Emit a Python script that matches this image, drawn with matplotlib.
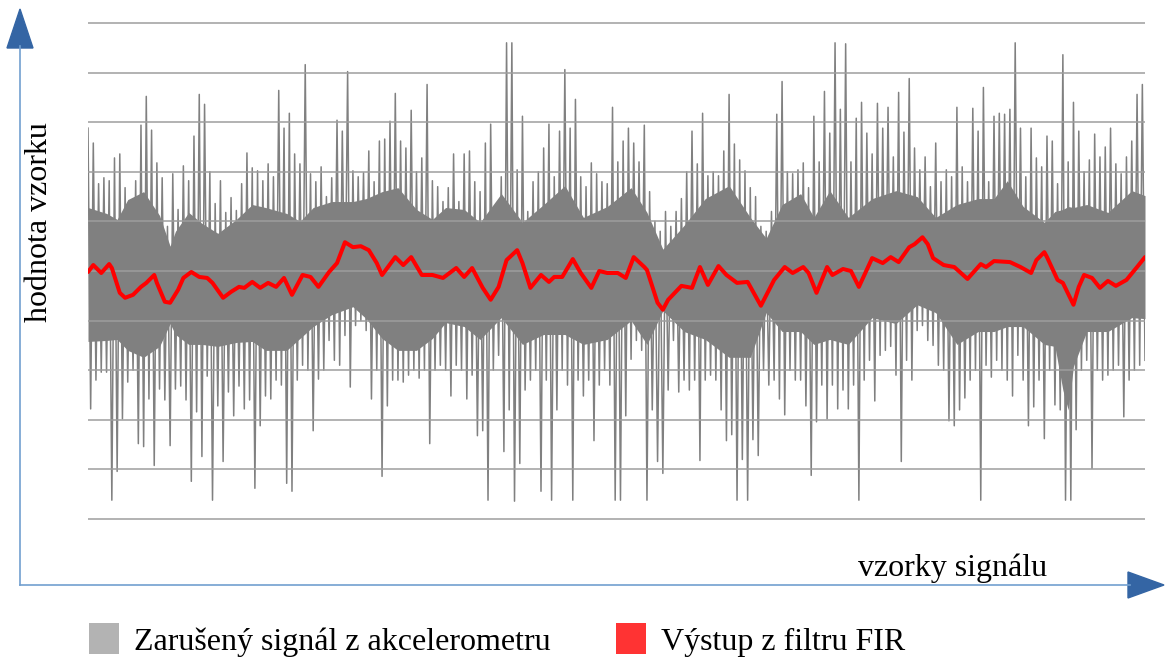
import numpy as np
import matplotlib
matplotlib.use("Agg")
import matplotlib.pyplot as plt
from matplotlib.patches import Patch, Polygon
from matplotlib.lines import Line2D

# ---------------- data ----------------
# noisy accelerometer signal: alternating local maxima / minima (400 samples)
signal_peaks = [
    144, 129, 88, 94, 91, 114, 118, 84, 68, 91, 147, 176, 142, 109, 94, 45, 98, 62, 106, 91,
    136, 178, 168, 100, 68, 91, 59, 74, 61, 88, 119, 104, 101, 91,
    108, 95, 182, 144, 159, 118, 108, 208, 98, 90, 105, 75, 94, 152, 141, 201, 101, 95, 99, 121,
    90, 131, 133, 151, 179, 131, 124, 162, 100, 114, 188, 91, 85, 70,
    84, 118, 70, 118, 121, 90, 80, 129, 148, 66, 95, 230, 230, 102, 156, 60, 90, 100, 124, 148,
    95, 141, 203, 144, 173, 95, 85, 109, 98, 90, 88, 165, 110, 131,
    144, 129, 110, 147, 80, 50, 40, 60, 45, 60, 73, 100, 141, 108, 159, 96, 100, 96, 121, 178,
    128, 112, 101, 84, 75, 45, 40, 60, 158, 191, 100, 98, 102, 109,
    84, 156, 110, 181, 139, 230, 163, 229, 110, 154, 170, 139, 118, 169, 144, 165, 115, 180, 140, 194,
    124, 102, 115, 85, 129, 90, 102, 95, 165, 105, 90, 164, 141, 185,
    90, 156, 159, 158, 163, 230, 144, 95, 144, 114, 105, 136, 131, 88, 218, 110, 170, 141, 100, 112,
    138, 115, 125, 144, 108, 98, 115, 131, 178, 188,
]
signal_troughs = [
    -139, -110, -102, -102, -231, -202, -149, -112, -100, -174, -177, -129, -196, -119, -130, -176,
    -119, -116, -130, -212, -142, -187, -106, -231, -136, -192, -122, -146, -116, -139, -130, -219, -156, -126,
    -129, -110, -115, -214, -222, -110, -95, -100, -161, -109, -100, -70, -90, -95, -65, -117,
    -55, -50, -60, -129, -100, -207, -136, -110, -110, -112, -105, -100, -108, -100, -174, -100, -95, -100,
    -126, -95, -100, -129, -105, -166, -161, -231, -100, -85, -182, -140, -232, -194, -120, -110,
    -100, -222, -110, -231, -140, -100, -115, -231, -110, -126, -110, -171, -115, -100, -115, -231, -231, -146,
    -89, -70, -80, -231, -140, -192, -204, -120, -70, -122, -110, -120, -110, -191, -110, -105,
    -110, -140, -171, -165, -231, -190, -231, -170, -186, -100, -115, -110, -129, -145, -100, -110, -110, -136,
    -206, -152, -115, -149, -115, -139, -120, -139, -115, -231, -110, -90, -131, -85, -80, -76,
    -105, -192, -90, -110, -60, -55, -70, -75, -95, -100, -151, -156, -140, -128, -110, -100, -231, -95,
    -107, -90, -100, -110, -126, -85, -110, -156, -137, -110, -169, -100, -135, -140, -231, -231,
    -160, -100, -90, -199, -100, -110, -105, -100, -95, -147, -110, -100, -95, -90,
]

# dense core of the noisy signal (where the samples fill the band solidly)
core_samples = [0, 7, 11, 15, 21, 27, 31, 33, 38, 43, 49, 56, 62, 67, 75, 80, 85, 92, 100, 105,
                111, 117, 124, 130, 135, 142, 148, 156, 164, 172, 180, 187, 196, 205, 211, 217,
                225, 233, 242, 250, 256, 262, 269, 274, 280, 287, 296, 305, 313, 320, 328, 336,
                342, 347, 353, 361, 365, 368, 370, 372, 377, 385, 394, 399]
core_top = [64, 58, 52, 72, 80, 56, 25, 40, 59, 48, 38, 52, 67, 64, 58, 50, 64, 70, 70, 73,
            80, 84, 62, 52, 64, 62, 49, 78, 49, 67, 86, 54, 65, 84, 59, 22,
            46, 73, 86, 54, 33, 67, 78, 54, 81, 54, 73, 81, 75, 54, 67, 73,
            73, 91, 65, 49, 60, 62, 65, 64, 67, 59, 81, 76]
core_bottom = [-71, -70, -69, -80, -87, -76, -53, -64, -74, -74, -76, -72, -71, -80, -80, -68,
               -56, -44, -36, -48, -68, -80, -80, -68, -52, -56, -69, -47, -74, -64, -64, -74,
               -69, -50, -74, -40, -61, -69, -87, -87, -42, -61, -61, -74, -69, -74, -47, -53,
               -34, -42, -74, -61, -61, -56, -56, -74, -76, -120, -140, -96, -61, -61, -47, -48]

# FIR filter output
fir_samples = [0, 2, 5, 8, 9, 12, 14, 17, 20, 22, 25, 26, 29, 31, 34, 36, 39, 42, 45, 47,
               51, 54, 57, 59, 62, 65, 68, 71, 74, 77, 81, 84, 87, 91, 94, 97, 100, 103, 106, 109,
               111, 116, 119, 122, 126, 130, 134, 139, 142, 145, 149, 152, 155, 158, 162, 164, 167,
               171, 174, 176, 179, 183, 186, 190, 193, 196, 200, 203, 206, 210, 211, 215, 217, 219,
               224, 228, 231, 234, 238, 241, 245, 249, 254, 259, 263, 266, 270, 272, 275, 279, 281,
               285, 288, 291, 296, 300, 303, 306, 310, 312, 315, 317, 319, 323, 327, 332, 337, 339,
               342, 348, 352, 356, 358, 361, 362, 366, 368, 372, 374, 376, 379, 382, 385, 388, 392,
               396, 399]
fir_values = [-1, 6, -2, 7, 3, -22, -27, -24, -16, -12, -4, -12, -31, -32, -19, -7, -1, -6, -7, -12,
              -27, -21, -16, -17, -11, -17, -12, -16, -7, -24, -4, -6, -16, -1, 8, 29, 24, 25, 21, 8,
              -4, 14, 6, 14, -4, -4, -7, 3, -6, 3, -17, -29, -16, 11, 21, 8, -17,
              -4, -11, -6, -6, 12, -2, -17, 0, -2, -2, -7, 14, 4, 1, -32, -39, -29,
              -15, -17, 4, -14, 5, -4, -12, -11, -35, -9, 4, -2, 4, -2, -22, 4, -4,
              2, 0, -16, 13, 8, 14, 9, 24, 27, 34, 27, 13, 6, 4, -8, 7, 4,
              10, 9, 4, -2, 11, 19, 14, -9, -12, -34, -16, -4, -7, -17, -10, -15, -9,
              4, 14]

grid_levels = list(range(-250, 251, 50))
legend_labels = ["Zarušený signál z akcelerometru", "Výstup z filtru FIR"]
x_label = "vzorky signálu"
y_label = "hodnota vzorku"

# ---------------- figure ----------------
W, H = 1165, 660
plt.rcParams['font.family'] = ['Liberation Serif', 'DejaVu Serif']
fig = plt.figure(figsize=(W / 100, H / 100), dpi=100)

def fx(px):
    return px / W

def fy(py):
    return 1 - py / H

ax = fig.add_axes([fx(88), fy(524), fx(1145) - fx(88), fy(18) - fy(524)])

signal = np.empty(2 * len(signal_peaks))
signal[0::2] = signal_peaks
signal[1::2] = signal_troughs
samples = np.arange(len(signal))

ax.fill_between(core_samples, core_bottom, core_top, color='#808080', lw=0, zorder=1)
ax.plot(samples, signal, color='#808080', lw=1.1, zorder=1.2)
ax.plot(fir_samples, fir_values, color='#ff0000', lw=2.9, zorder=3,
        solid_joinstyle='round', solid_capstyle='round')

ax.set_xlim(0, len(signal) - 1)
ax.set_ylim(-255, 255)
ax.set_yticks(grid_levels)
ax.set_xticks([])
ax.yaxis.grid(True, color='#9e9e9e', lw=1.1)
ax.set_axisbelow(False)
ax.tick_params(left=False, labelleft=False, bottom=False, labelbottom=False)
for sp in ax.spines.values():
    sp.set_visible(False)

# axis arrows
line_col = '#729fcf'
head_col = '#3465a4'
fig.add_artist(Line2D([fx(20), fx(20)], [fy(585), fy(46)], color=line_col, lw=1.2,
                      transform=fig.transFigure))
fig.add_artist(Line2D([fx(20), fx(1130)], [fy(585), fy(585)], color=line_col, lw=1.2,
                      transform=fig.transFigure))
fig.add_artist(Polygon([[fx(20), fy(9)], [fx(7), fy(48)], [fx(33), fy(48)]], closed=True,
                       color=head_col, transform=fig.transFigure))
fig.add_artist(Polygon([[fx(1164), fy(585)], [fx(1128), fy(572)], [fx(1128), fy(598)]],
                       closed=True, color=head_col, transform=fig.transFigure))

fig.text(fx(858), fy(568), x_label, fontsize=23, ha='left', va='center')
fig.text(fx(40), fy(222), y_label, fontsize=23, ha='center', va='center', rotation=90)

handles = [Patch(facecolor='#b3b3b3', edgecolor='none'),
           Patch(facecolor='#ff3333', edgecolor='none')]
fig.legend(handles, legend_labels, loc='center left', bbox_to_anchor=(fx(89), fy(640)),
           ncol=2, frameon=False, fontsize=23, borderpad=0, borderaxespad=0,
           handlelength=0.94, handleheight=1.1, handletextpad=0.47, columnspacing=2.05)

fig.savefig('out.png', dpi=100)
